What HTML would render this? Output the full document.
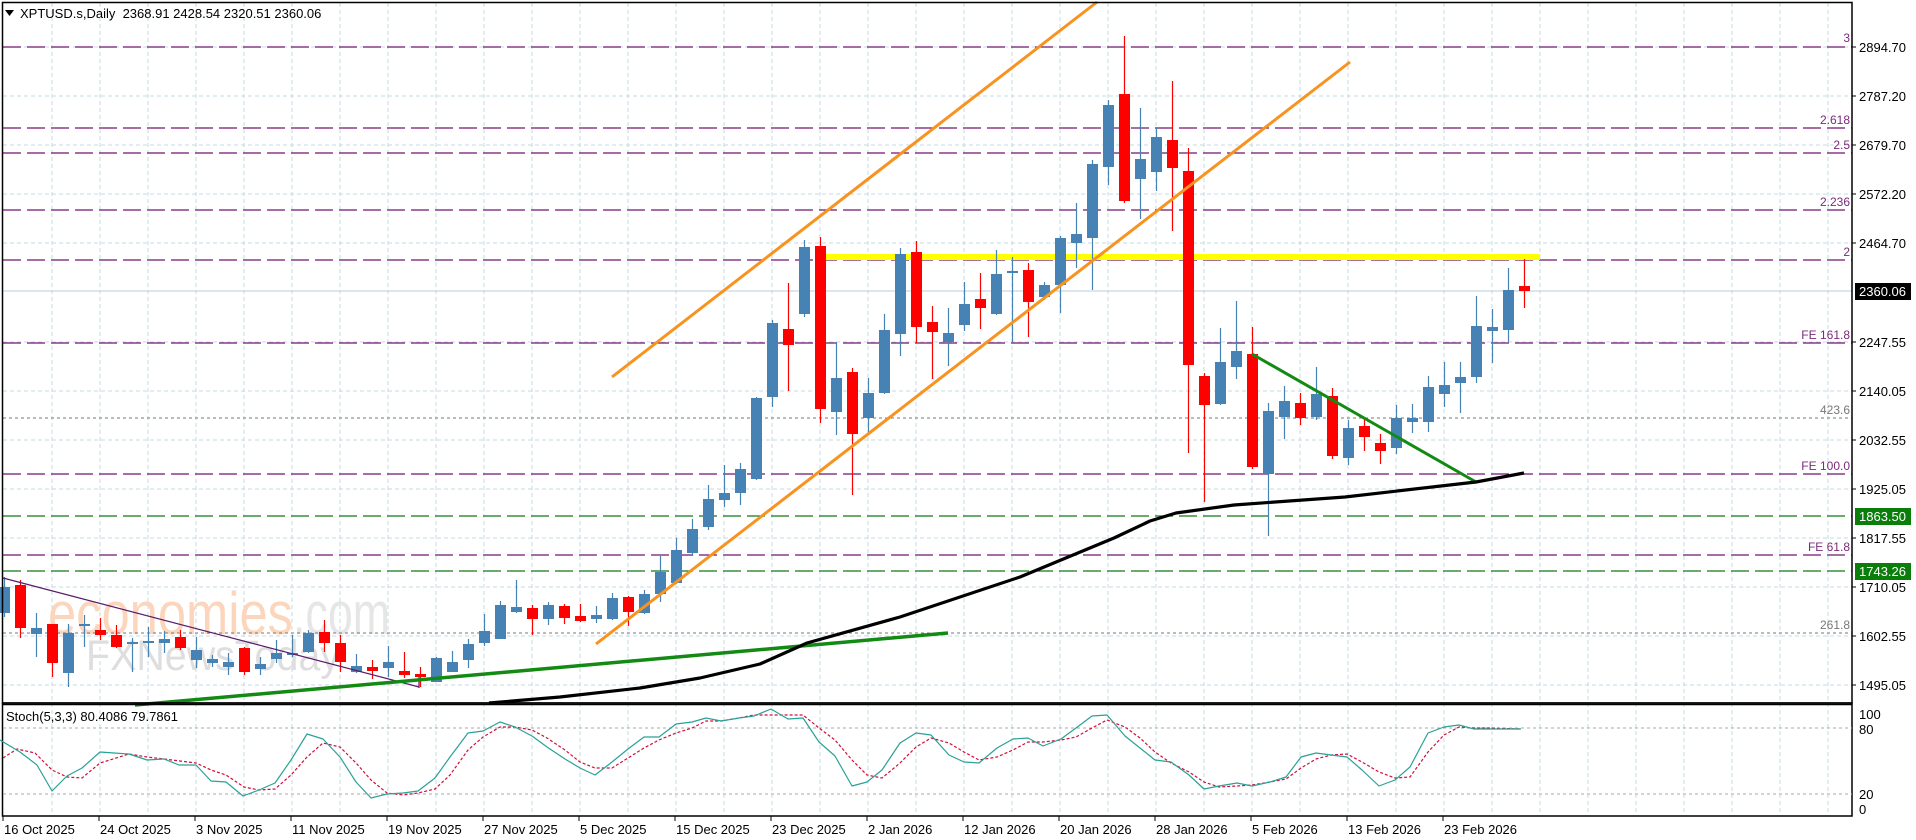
<!DOCTYPE html>
<html><head><meta charset="utf-8">
<style>
html,body{margin:0;padding:0;background:#fff;width:1916px;height:840px;overflow:hidden}
svg{display:block}
text{font-family:"Liberation Sans",sans-serif}
</style></head>
<body>
<svg id="c" width="1916" height="840" viewBox="0 0 1916 840" xmlns="http://www.w3.org/2000/svg"></svg>
<script>
var s='';
function L(x1,y1,x2,y2,c,w,d){s+='<line x1="'+x1+'" y1="'+y1+'" x2="'+x2+'" y2="'+y2+'" stroke="'+c+'" stroke-width="'+(w||1)+'"'+(d?' stroke-dasharray="'+d+'"':'')+'/>';}
function T(x,y,t,o){o=o||{};s+='<text x="'+x+'" y="'+y+'" font-size="'+(o.fs||13)+'" fill="'+(o.c||'#000')+'"'+(o.a?' text-anchor="'+o.a+'"':'')+'>'+t+'</text>';}
function P(pts,c,w,d){s+='<polyline fill="none" points="'+pts.map(function(p){return p[0]+','+p[1]}).join(' ')+'" stroke="'+c+'" stroke-width="'+w+'"'+(d?' stroke-dasharray="'+d+'"':'')+' stroke-linejoin="round"/>';}
var R=1852;
var gc='#c5dbe3';
for(var x=52;x<R;x+=48){L(x,3,x,703,gc,1,'4 3');L(x,703,x,816,gc,1,'4 3');}
var ys=[47,96,145,194,243,342,391,440,489,538,587,636,685];
ys.forEach(function(y){L(3,y,R,y,gc,1,'4 3');});
// watermark
s+='<text x="48" y="634" font-size="60" fill="#fbd6bd" textLength="245" lengthAdjust="spacingAndGlyphs">economies</text>';
s+='<text x="293" y="634" font-size="60" fill="#e6e6e6" textLength="97" lengthAdjust="spacingAndGlyphs">.com</text>';
s+='<text x="86" y="670" font-size="43" fill="#dedede" textLength="254" lengthAdjust="spacingAndGlyphs">FXNewsToday</text>';
var pu='#701570';
[47,128,153,210,260,343,474,555].forEach(function(y){L(3,y,R,y,pu,1.3,'18 6');});
[516,571].forEach(function(y){L(3,y,R,y,'#137a13',1.3,'18 6');});
[418,633].forEach(function(y){L(3,y,R,y,'#777',1,'3 3');});
L(3,291,R,291,'#b7cfd8',1);
var fl=[['3',42],['2.618',124],['2.5',149],['2.236',206],['2',256],['FE 161.8',339],['FE 100.0',470],['FE 61.8',551]];
fl.forEach(function(f){T(1850,f[1],f[0],{c:'#7b2a7b',a:'end',fs:12});});
T(1850,414,'423.6',{c:'#777',a:'end',fs:12});T(1850,629,'261.8',{c:'#777',a:'end',fs:12});
L(825,257,1540,257,'#ffff00',6);
var D=[
[0,'b',587,613,577,617],[1,'r',585,628,580,638],[2,'b',628,634,613,657],[3,'r',624,663,624,677],[4,'b',633,673,624,687],[5,'b',624,626,615,647],[6,'r',630,635,618,640],[7,'r',635,647,625,648],[8,'b',642,644,638,672],[9,'b',641,643,627,657],[10,'b',639,643,631,653],[11,'r',637,648,630,650],[12,'b',650,660,637,668],[13,'b',659,663,655,667],[14,'b',662,667,653,675],[15,'r',648,672,647,675],[16,'b',664,669,657,675],[17,'b',653,659,640,663],[18,'b',653,655,635,657],[19,'b',633,652,630,653],[20,'r',632,643,620,652],[21,'r',643,662,635,672],[22,'b',666,672,654,673],[23,'r',667,671,660,679],[24,'b',662,668,646,677],[25,'r',671,675,652,678],[26,'r',674,677,667,687],[27,'b',658,682,657,682],[28,'b',662,672,651,672],[29,'b',644,660,639,668],[30,'b',631,643,614,646],[31,'b',605,639,601,639],[32,'b',607,612,580,613],[33,'r',608,619,605,635],[34,'b',605,619,602,625],[35,'r',606,618,604,624],[36,'r',616,621,604,622],[37,'b',615,619,606,623],[38,'b',598,619,593,620],[39,'r',597,612,596,626],[40,'b',594,613,590,614],[41,'b',572,594,556,602],[42,'b',550,583,538,584],[43,'b',529,553,519,556],[44,'b',499,527,485,530],[45,'b',493,500,465,507],[46,'b',469,493,463,505],[47,'b',398,479,397,480],[48,'b',323,397,320,407],[49,'r',329,345,283,391],[50,'b',247,314,240,317],[51,'r',246,409,237,423],[52,'b',378,412,342,435],[53,'r',372,434,368,495],[54,'b',393,418,378,432],[55,'b',330,393,314,394],[56,'b',254,334,248,356],[57,'r',252,327,241,343],[58,'r',322,332,306,379],[59,'b',333,342,308,366],[60,'b',304,325,282,331],[61,'r',299,308,273,329],[62,'b',274,314,250,315],[63,'b',271,273,257,342],
[64,'r',270,302,263,337],[65,'b',285,297,282,300],[66,'b',238,285,236,313],[67,'b',234,243,203,268],[68,'b',164,238,160,290],[69,'b',105,167,100,185],[70,'r',94,201,36,203],[71,'b',159,179,108,219],[72,'b',137,172,128,191],[73,'r',140,168,81,231],[74,'r',171,365,148,453],[75,'r',376,405,373,502],[76,'b',362,404,328,405],[77,'b',351,367,301,379],[78,'r',354,467,327,469],[79,'b',411,474,403,536],[80,'b',401,417,386,439],[81,'r',403,418,393,425],[82,'b',394,417,367,420],[83,'r',396,456,388,459],[84,'b',428,458,420,465],[85,'r',426,437,418,451],[86,'r',443,451,434,464],[87,'b',418,448,405,454],[88,'b',418,422,404,433],[89,'b',387,422,376,432],[90,'b',385,394,362,407],[91,'b',377,383,362,413],[92,'b',326,377,296,383],[93,'b',327,331,309,363],[94,'b',290,330,268,342],[95,'r',286,291,259,308]];
D.forEach(function(d){var x=4+16*d[0],c=d[1]=='b'?'#4682b4':'#ff0000';
 L(x+0.5,d[4],x+0.5,d[5],c,1.2);
 var h=Math.max(d[3]-d[2],2);
 s+='<rect x="'+(x-5)+'" y="'+d[2]+'" width="11" height="'+h+'" fill="'+c+'"/>';});
L(3,578,419,687,'#5a1a6a',1.2);L(419,677,419,688,'#5a1a6a',1.2);
L(612,377,1097,2,'#f7931e',3);
L(596,644,1350,62,'#f7931e',3);
L(135,705,948,633,'#138a13',3.5);
L(1252,354,1476,482,'#138a13',3);
P([[489,703],[560,697],[640,688],[700,678],[760,664],[807,643],[900,617],[1020,577],[1114,538],[1150,521],[1176,513],[1234,505],[1345,497],[1476,482],[1524,473]],'#000',3.2);
s+='<rect x="2.5" y="2.5" width="'+(R-2.5)+'" height="700.5" fill="none" stroke="#000" stroke-width="1.5"/>';
L(2,704.5,R,704.5,'#000',1.5);
s+='<rect x="2.5" y="703" width="'+(R-2.5)+'" height="113" fill="none" stroke="#000" stroke-width="1.5"/>';
var pl=[['2894.70',47],['2787.20',96],['2679.70',145],['2572.20',194],['2464.70',243],['2247.55',342],['2140.05',391],['2032.55',440],['1925.05',489],['1817.55',538],['1710.05',587],['1602.55',636],['1495.05',685]];
pl.forEach(function(p){L(R,p[1],R+4,p[1],'#000',1);T(1859,p[1]+5,p[0]);});
function box(y,t,c){s+='<rect x="1855" y="'+(y-8)+'" width="56" height="17" fill="'+c+'"/>';T(1859,y+5,t,{c:'#fff'});}
box(291,'2360.06','#000');box(516,'1863.50','#0b7d0b');box(571,'1743.26','#0b7d0b');
s+='<polygon points="5,10 14,10 9.5,16" fill="#000"/>';
T(20,18,'XPTUSD.s,Daily&#160;&#160;2368.91 2428.54 2320.51 2360.06');
L(3,728,R,728,'#aaa',1,'3 3');L(3,794,R,794,'#aaa',1,'3 3');
T(6,721,'Stoch(5,3,3) 80.4086 79.7861');
[['100',714],['80',729],['20',794],['0',809]].forEach(function(p){T(1859,p[1]+5,p[0]);});
var tl=[[0,740],[20,752],[37,765],[52,791],[67,776],[82,768],[100,752],[114,753],[129,754],[147,760],[164,759],[179,765],[196,765],[211,781],[226,782],[243,796],[259,790],[275,783],[291,760],[307,734],[323,739],[340,757],[356,782],[371,798],[387,794],[403,793],[418,791],[435,778],[450,757],[468,733],[483,731],[500,722],[515,727],[532,736],[547,747],[565,759],[580,768],[595,775],[612,762],[628,749],[644,737],[659,737],[676,724],[692,722],[706,718],[721,721],[739,718],[754,716],[771,709],[788,719],[803,718],[819,742],[835,756],[852,786],[867,782],[882,770],[900,743],[916,733],[931,735],[949,755],[964,762],[979,763],[997,748],[1013,739],[1028,738],[1043,746],[1061,739],[1076,728],[1092,716],[1107,715],[1125,736],[1140,748],[1155,760],[1171,762],[1189,775],[1204,789],[1219,786],[1237,783],[1252,786],[1270,782],[1286,777],[1301,757],[1316,753],[1331,755],[1347,757],[1362,770],[1379,786],[1395,780],[1410,767],[1428,733],[1444,727],[1459,725],[1474,729],[1490,729],[1505,729],[1521,729]];
var rl=[[3,758],[17,749],[35,753],[52,770],[67,777],[82,778],[100,763],[129,754],[147,757],[164,759],[196,763],[211,770],[226,775],[244,787],[259,790],[275,789],[291,775],[307,757],[323,743],[340,747],[356,763],[371,780],[387,793],[403,795],[418,793],[435,789],[450,775],[468,750],[483,737],[500,727],[515,727],[532,730],[547,738],[565,750],[580,762],[595,768],[612,768],[628,758],[644,748],[659,740],[676,733],[692,728],[706,721],[721,721],[739,718],[754,715],[773,715],[803,715],[819,728],[835,740],[852,760],[867,775],[882,778],[900,763],[916,747],[931,738],[949,743],[964,752],[979,760],[997,757],[1013,750],[1028,742],[1043,742],[1061,740],[1076,737],[1092,728],[1107,720],[1125,727],[1140,738],[1155,752],[1171,763],[1189,772],[1204,782],[1219,787],[1237,786],[1252,785],[1270,782],[1286,779],[1301,768],[1316,759],[1331,755],[1347,754],[1362,762],[1379,772],[1395,778],[1410,777],[1428,752],[1444,735],[1459,727],[1474,728],[1490,728],[1521,729]];
P(rl,'#d0103a',1.2,'3 2');
P(tl,'#2aa198',1.2);
var dl=['16 Oct 2025','24 Oct 2025','3 Nov 2025','11 Nov 2025','19 Nov 2025','27 Nov 2025','5 Dec 2025','15 Dec 2025','23 Dec 2025','2 Jan 2026','12 Jan 2026','20 Jan 2026','28 Jan 2026','5 Feb 2026','13 Feb 2026','23 Feb 2026'];
dl.forEach(function(t,k){var x=3+96*k;L(x,816,x,821,'#000',1);T(x+1,834,t);});
document.getElementById('c').innerHTML=s;
</script>
</body></html>
